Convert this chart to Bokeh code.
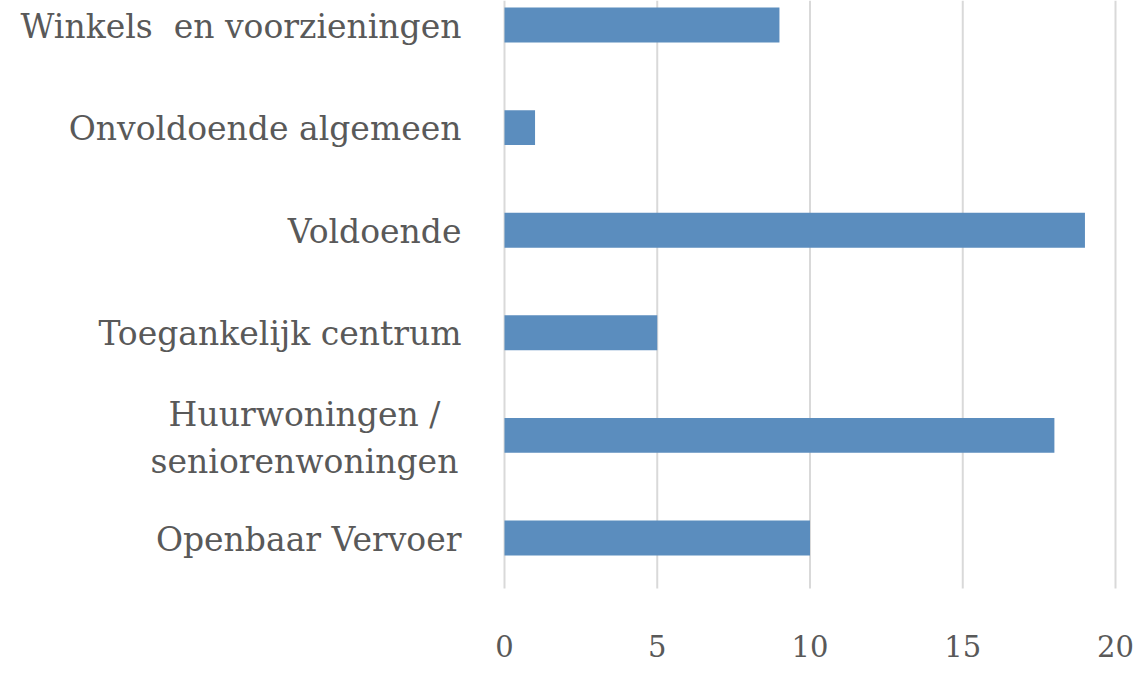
from bokeh.plotting import figure
from bokeh.models import ColumnDataSource, Range1d
from bokeh.core.properties import value
from bokeh.embed import file_html
from bokeh.resources import INLINE

categories = ["Winkels  en voorzieningen", "Onvoldoende algemeen", "Voldoende",
              "Toegankelijk centrum", "Huurwoningen /\nseniorenwoningen", "Openbaar Vervoer"]
values = [9, 1, 19, 5, 18, 10]
x_ticks = [0, 5, 10, 15, 20]

# layout (pixels on the 1134x667 canvas)
W, H = 1134, 667
X0_PX, PX_PER_UNIT = 504.0, 30.55        # x value 0 and scale
Y0_PX, PX_PER_CAT = 537.5, 102.6         # bottom category centre and spacing
GRID_BOTTOM_PX = 588
LABEL_RIGHT_PX = 461
TEXT_SHIFT_PX = 13                       # baseline correction of the svg text
TICK_BASELINE_PX = 658

FONT = "DejaVu Serif"
COL = "#595959"

def xv(px):
    return (px - X0_PX) / PX_PER_UNIT

def yv(px):
    return (Y0_PX - px) / PX_PER_CAT

n = len(categories)
ypos = [n - 1 - i for i in range(n)]

p = figure(width=W, height=H, output_backend="svg", toolbar_location=None,
           x_range=Range1d(xv(0), xv(W)), y_range=Range1d(yv(H), yv(0)),
           min_border=0)
p.outline_line_color = None
p.axis.visible = False
p.grid.visible = False

# grid lines at the tick values
p.segment(x0=x_ticks, x1=x_ticks, y0=[yv(GRID_BOTTOM_PX)] * len(x_ticks),
          y1=[yv(0)] * len(x_ticks), line_color="#d9d9d9", line_width=2)

# bars
src = ColumnDataSource(dict(y=ypos, v=values))
p.hbar(y="y", right="v", left=0, height=0.34, source=src, color="#5B8DBE", line_color=None)

# x tick labels
p.text(x=x_ticks, y=[yv(TICK_BASELINE_PX - TEXT_SHIFT_PX)] * len(x_ticks),
       text=[str(t) for t in x_ticks],
       text_align="center", text_baseline="alphabetic", text_font=value(FONT),
       text_font_size="29px", text_color=COL)

# category labels
single_x, single_y, single_t = [], [], []
multi_x, multi_y, multi_t = [], [], []
for y, c in zip(ypos, categories):
    if "\n" in c:
        lines = c.split("\n")
        offs_px = [-8, 39]
        for ln, o in zip(lines, offs_px):
            multi_x.append(xv(304))
            multi_y.append(y - (o - TEXT_SHIFT_PX) / PX_PER_CAT)
            multi_t.append(ln)
    else:
        single_x.append(xv(LABEL_RIGHT_PX))
        single_y.append(y - (14 - TEXT_SHIFT_PX) / PX_PER_CAT)
        single_t.append(c.replace("  ", " \u00a0"))

p.text(x=single_x, y=single_y, text=single_t, text_align="right", text_baseline="alphabetic",
       text_font=value(FONT), text_font_size="33px", text_color=COL)
p.text(x=multi_x, y=multi_y, text=multi_t, text_align="center", text_baseline="alphabetic",
       text_font=value(FONT), text_font_size="33px", text_color=COL)

open("out.html", "w").write(file_html(p, INLINE))
